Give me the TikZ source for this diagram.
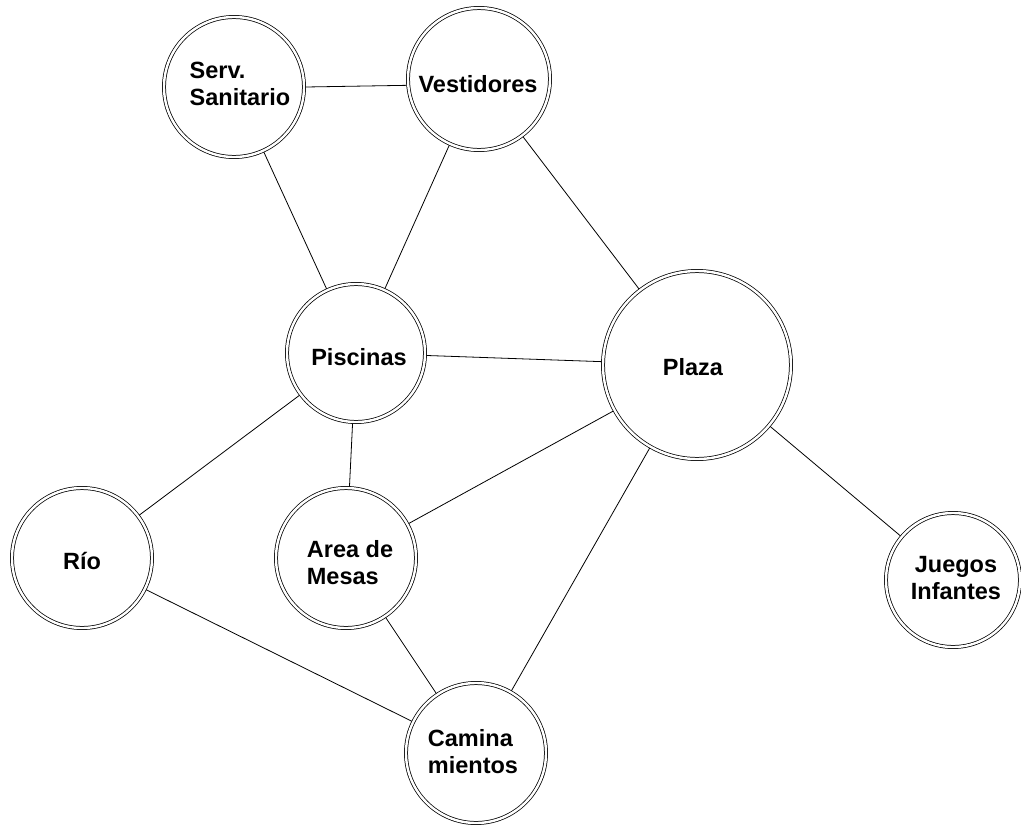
\documentclass[tikz,border=0pt]{standalone}
\usepackage{fontspec}
\setmainfont{Liberation Sans}
\begin{document}
\begin{tikzpicture}[x=1pt,y=-1pt,
  area/.style={circle, draw=black, double=white, double distance=2.4pt, line width=0.75pt,
    fill=white, inner sep=0pt, outer sep=1.6pt, minimum size=#1},
  lbl/.style={font=\fontsize{23.5}{27}\selectfont\bfseries, align=left, inner sep=0pt, text=black},
  link/.style={draw=black, line width=0.8pt}]
\useasboundingbox[fill=white] (0,0) rectangle (1021,825);
% circles
\node[area=140pt] (ser) at (234,87) {};
\node[area=142pt] (ves) at (479,79) {};
\node[area=138pt] (pis) at (356,353) {};
\node[area=188pt] (pla) at (697,365) {};
\node[area=140pt] (rio) at (82,558) {};
\node[area=140pt] (are) at (346,558) {};
\node[area=134pt] (jue) at (953,580) {};
\node[area=140pt] (cam) at (476,753) {};
% connectors
\draw[link] (ser.east) -- (ves.185);
\draw[link] (ser) -- (pis);
\draw[link] (ves) -- (pis);
\draw[link] (ves) -- (pla);
\draw[link] (pis) -- (pla);
\draw[link] (pis) -- (rio);
\draw[link] (pis) -- (are);
\draw[link] (are) -- (pla);
\draw[link] (pla) -- (cam);
\draw[link] (pla) -- (jue);
\draw[link] (rio) -- (cam);
\draw[link] (are) -- (cam);
% labels
\node[lbl] (tser) at (240,84) {Serv.\\Sanitario};
\node[lbl] (tves) at (478,84) {Vestidores};
\node[lbl] (tpis) at (359,357) {Piscinas};
\node[lbl] (tpla) at (693,367) {Plaza};
\node[lbl] (trio) at (82,561) {Río};
\node[lbl] (tare) at (350,563) {Area de\\Mesas};
\node[lbl, align=center] (tjue) at (956,578) {Juegos\\Infantes};
\node[lbl] (tcam) at (473,752) {Camina\\mientos};
\end{tikzpicture}
\end{document}
